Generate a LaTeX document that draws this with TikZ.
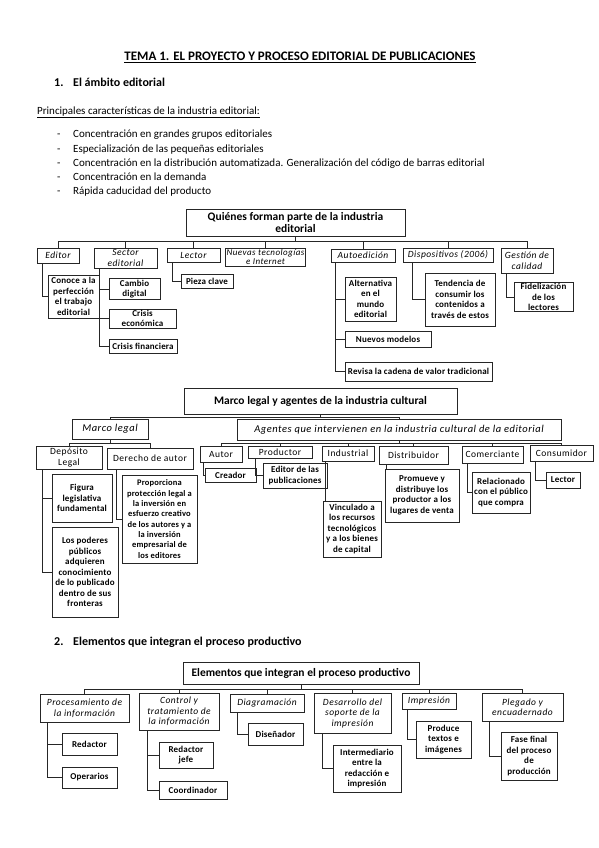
\documentclass[tikz,border=0pt]{standalone}
\usepackage{fontspec}
\setmainfont{Carlito}
\newfontfamily\spacedfont[LetterSpace=5]{Carlito}
\newfontfamily\leaffont[LetterSpace=2]{Carlito}
\usepackage{tikz}

\begin{document}
\begin{tikzpicture}[x=1pt,y=-1pt,
  box/.style={draw=black!85, line width=1pt, inner sep=1pt, align=center},
  rootbox/.style={box, font=\fontsize{11.5}{12.5}\selectfont\bfseries},
  catbox/.style={box, font=\spacedfont\fontsize{9.5}{10.5}\selectfont\itshape},
  agentbox/.style={box, font=\spacedfont\fontsize{9.5}{10.5}\selectfont},
  leafbox/.style={box, font=\leaffont\fontsize{9}{10.5}\selectfont\bfseries},
  body/.style={inner sep=0pt, anchor=base west, font=\fontsize{11}{13}\selectfont},
  heading/.style={inner sep=0pt, anchor=base west, font=\fontsize{12}{14}\selectfont\bfseries},
  link/.style={draw=black!85, line width=0.9pt}]
  \useasboundingbox (0,0) rectangle (599,848);

  % Header
  \node[inner sep=0pt, anchor=base, font=\fontsize{13}{15}\selectfont\bfseries] (titulo) at (300,61)
    {\underline{TEMA 1. EL PROYECTO Y PROCESO EDITORIAL DE PUBLICACIONES}};
  \node[heading] (num1) at (54,87) {1.};
  \node[heading] (sec1) at (73,87) {El ámbito editorial};
  \node[body] (princ) at (37,114) {\underline{Principales características de la industria editorial:}};
  \foreach \t [count=\i] in {Concentración en grandes grupos editoriales,
      Especialización de las pequeñas editoriales,
      Concentración en la distribución automatizada. Generalización del código de barras editorial,
      Concentración en la demanda,
      Rápida caducidad del producto}{
    \node[body] (guion\i) at (57,{124+14*\i}) {-};
    \node[body] (rasgo\i) at (73,{124+14*\i}) {\t};
  }

  % Quienes forman parte
  \node[rootbox, minimum width=219, minimum height=27] (quien) at (295.5,222.5) {Quiénes forman parte de la industria\\editorial};
  \node[catbox, minimum width=42, minimum height=15] (editor) at (58,255.5) {Editor};
  \node[catbox, minimum width=63, minimum height=20] (sector) at (125.5,258) {Sector\\editorial};
  \node[catbox, minimum width=53, minimum height=14] (lector) at (193.5,255) {Lector};
  \node[catbox, font=\spacedfont\fontsize{9}{9.5}\selectfont\itshape, minimum width=73, minimum height=18] (nuevas) at (265.5,257) {Nuevas tecnologías\\e Internet};
  \node[catbox, minimum width=64, minimum height=13] (autoed) at (363,255.5) {Autoedición};
  \node[catbox, minimum width=90, minimum height=14] (dispos) at (448,255) {Dispositivos (2006)};
  \node[catbox, minimum width=52, minimum height=25] (gestion) at (527,260.5) {Gestión de\\calidad};
  \foreach \c in {editor,sector,lector,nuevas,autoed,dispos,gestion}
    \draw[link] (quien.south) -- ++(0,5) -| (\c.north);

  \node[leafbox, minimum width=51, minimum height=43] (conoce) at (73.5,296.5) {Conoce a la\\perfección\\el trabajo\\editorial};
  \node[leafbox, minimum width=51, minimum height=20] (cambio) at (134.5,289) {Cambio\\digital};
  \node[leafbox, minimum width=67, minimum height=19] (crisise) at (142.5,318.5) {Crisis\\económica};
  \node[leafbox, minimum width=68, minimum height=14] (crisisf) at (143,346) {Crisis financiera};
  \node[leafbox, minimum width=52, minimum height=14] (pieza) at (207,281) {Pieza clave};
  \node[leafbox, minimum width=51, minimum height=44] (altern) at (370.5,299) {Alternativa\\en el\\mundo\\editorial};
  \node[leafbox, minimum width=86, minimum height=16] (nuevos) at (388,339) {Nuevos modelos};
  \node[leafbox, minimum width=147, minimum height=19] (revisa) at (418.5,371.5) {Revisa la cadena de valor tradicional};
  \node[leafbox, minimum width=70, minimum height=53] (tendencia) at (460,299.5) {Tendencia de\\consumir los\\contenidos a\\través de estos};
  \node[leafbox, minimum width=59, minimum height=28] (fideliz) at (543.5,297) {Fidelización\\de los\\lectores};
  \draw[link] ([xshift=6]editor.south west) |- (conoce.west);
  \foreach \c in {cambio,crisise,crisisf}
    \draw[link] ([xshift=6]sector.south west) |- (\c.west);
  \draw[link] ([xshift=6]lector.south west) |- (pieza.west);
  \foreach \c in {altern,nuevos,revisa}
    \draw[link] ([xshift=5]autoed.south west) |- (\c.west);
  \draw[link] ([xshift=10]dispos.south west) |- (tendencia.west);
  \draw[link] ([xshift=6]gestion.south west) |- (fideliz.west);

  % Marco legal y agentes
  \node[rootbox, minimum width=273, minimum height=26] (mlegal) at (320.5,401) {Marco legal y agentes de la industria cultural};
  \node[catbox, font=\spacedfont\fontsize{10.5}{12}\selectfont\itshape, minimum width=76, minimum height=20] (marco) at (110,429) {Marco legal};
  \node[catbox, font=\spacedfont\fontsize{10.5}{12}\selectfont\itshape, minimum width=324, minimum height=21] (agentes) at (399,429.5) {Agentes que intervienen en la industria cultural de la editorial};
  \foreach \c in {marco,agentes}
    \draw[link] (mlegal.south) -- ++(0,3) -| (\c.north);

  \node[agentbox, minimum width=66, minimum height=23] (deposito) at (69,457.5) {Depósito\\Legal};
  \node[agentbox, minimum width=86, minimum height=21] (derecho) at (150,458.5) {Derecho de autor};
  \foreach \c in {deposito,derecho}
    \draw[link] (marco.south) -- ++(0,4) -| (\c.north);
  \node[leafbox, minimum width=60, minimum height=48] (figura) at (82,498) {Figura\\legislativa\\fundamental};
  \node[leafbox, minimum width=66, minimum height=90] (poderes) at (85,572) {Los poderes\\públicos\\adquieren\\conocimiento\\de lo publicado\\dentro de sus\\fronteras};
  \node[leafbox, font=\leaffont\fontsize{8.5}{10.3}\selectfont\bfseries, minimum width=75, minimum height=88] (proporciona) at (159.5,519) {Proporciona\\protección legal a\\la inversión en\\esfuerzo creativo\\de los autores y a\\la inversión\\empresarial de\\los editores};
  \foreach \c in {figura,poderes}
    \draw[link] ([xshift=7]deposito.south west) |- (\c.west);
  \draw[link] ([xshift=10]derecho.south west) |- (proporciona.west);

  \node[agentbox, minimum width=42, minimum height=16] (autor) at (221,454) {Autor};
  \node[agentbox, minimum width=64, minimum height=12] (productor) at (280,452) {Productor};
  \node[agentbox, minimum width=52, minimum height=15] (industrial) at (348,453.5) {Industrial};
  \node[agentbox, minimum width=69, minimum height=18] (distrib) at (413.5,455) {Distribuidor};
  \node[agentbox, minimum width=61, minimum height=17] (comerc) at (492.5,454.5) {Comerciante};
  \node[agentbox, minimum width=63, minimum height=16] (consum) at (561.5,453) {Consumidor};
  \foreach \c in {autor,productor,industrial,distrib,comerc,consum}
    \draw[link] (agentes.south) -- ++(0,3) -| (\c.north);

  \node[leafbox, minimum width=51, minimum height=14] (creador) at (230.5,475) {Creador};
  \node[leafbox, minimum width=64, minimum height=25] (editorpub) at (295,475.5) {Editor de las\\publicaciones};
  \node[leafbox, minimum width=58, minimum height=56] (vinculado) at (352,529) {Vinculado a\\los recursos\\tecnológicos\\y a los bienes\\de capital};
  \node[leafbox, minimum width=74, minimum height=53] (promueve) at (422,495.5) {Promueve y\\distribuye los\\productor a los\\lugares de venta};
  \node[leafbox, minimum width=58, minimum height=41] (relac) at (501,492.5) {Relacionado\\con el público\\que compra};
  \node[leafbox, minimum width=34, minimum height=16] (lectorc) at (563,480) {Lector};
  \draw[link] ([xshift=4]autor.south west) |- (creador.west);
  \draw[link] ([xshift=8]productor.south west) |- (editorpub.west);
  \draw[link] ([xshift=4]industrial.south west) -- ([xshift=3]vinculado.north west);
  \draw[link] ([xshift=8]distrib.south west) -- ([xshift=2]promueve.north west);
  \draw[link] ([xshift=6]comerc.south west) |- (relac.west);
  \draw[link] ([xshift=6]consum.south west) |- (lectorc.west);

  % Proceso productivo
  \node[heading] (num2) at (54,645) {2.};
  \node[heading] (sec2) at (73,645) {Elementos que integran el proceso productivo};
  \node[rootbox, minimum width=236, minimum height=22] (elem) at (301,673) {Elementos que integran el proceso productivo};
  \node[catbox, minimum width=89, minimum height=28] (proc) at (84.5,708) {Procesamiento de\\la información};
  \node[catbox, minimum width=80, minimum height=37] (control) at (179,711.5) {Control y\\tratamiento de\\la información};
  \node[catbox, minimum width=74, minimum height=18] (diagr) at (267,703) {Diagramación};
  \node[catbox, minimum width=77, minimum height=40] (desarr) at (352.5,713) {Desarrollo del\\soporte de la\\impresión};
  \node[catbox, minimum width=54, minimum height=16] (impr) at (429,701) {Impresión};
  \node[catbox, minimum width=81, minimum height=28] (pleg) at (522.5,707) {Plegado y\\encuadernado};
  \foreach \c in {proc,control,diagr,desarr,impr,pleg}
    \draw[link] (elem.south) -- ++(0,5) -| (\c.north);

  \node[leafbox, minimum width=55, minimum height=22] (redactor) at (89.5,744) {Redactor};
  \node[leafbox, minimum width=55, minimum height=21] (operarios) at (89.5,777.5) {Operarios};
  \node[leafbox, minimum width=54, minimum height=26] (redjefe) at (186,755) {Redactor\\jefe};
  \node[leafbox, minimum width=68, minimum height=18] (coord) at (193,790) {Coordinador};
  \node[leafbox, minimum width=55, minimum height=22] (disenador) at (275.5,734) {Diseñador};
  \node[leafbox, minimum width=68, minimum height=47] (interm) at (367,768.5) {Intermediario\\entre la\\redacción e\\impresión};
  \node[leafbox, minimum width=55, minimum height=37] (produce) at (443.5,739.5) {Produce\\textos e\\imágenes};
  \node[leafbox, minimum width=56, minimum height=48] (fase) at (529,756) {Fase final\\del proceso\\de\\producción};
  \foreach \c in {redactor,operarios}
    \draw[link] ([xshift=8]proc.south west) |- (\c.west);
  \foreach \c in {redjefe,coord}
    \draw[link] ([xshift=9]control.south west) |- (\c.west);
  \draw[link] ([xshift=8]diagr.south west) |- (disenador.west);
  \draw[link] ([xshift=9]desarr.south west) |- (interm.west);
  \draw[link] ([xshift=6]impr.south west) |- (produce.west);
  \draw[link] ([xshift=8]pleg.south west) |- (fase.west);
\end{tikzpicture}
\end{document}
